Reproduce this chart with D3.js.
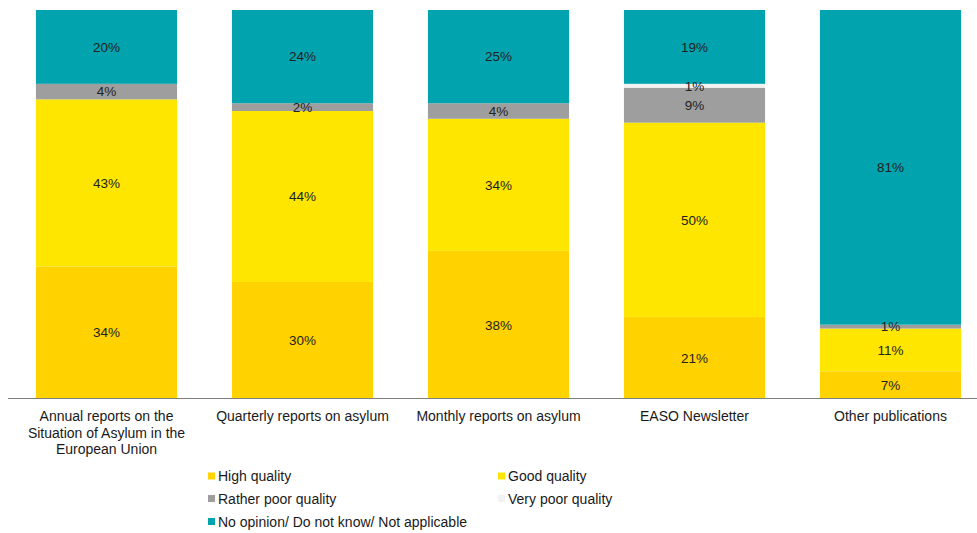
<!DOCTYPE html>
<html>
<head>
<meta charset="utf-8">
<script src="https://cdn.jsdelivr.net/npm/d3@7"></script>
<style>
  html, body { margin: 0; padding: 0; background: #fff; }
  svg { display: block; font-family: "Liberation Sans", Arial, sans-serif; }
</style>
</head>
<body>
<svg id="chart" width="977" height="533"></svg>
<script>
// Publication categories (x axis), each split into quality ratings
const categories = [
  ["Annual reports on the", "Situation of Asylum in the", "European Union"],
  ["Quarterly reports on asylum"],
  ["Monthly reports on asylum"],
  ["EASO Newsletter"],
  ["Other publications"]
];
const seriesNames = ["High quality", "Good quality", "Rather poor quality", "Very poor quality", "No opinion/ Do not know/ Not applicable"];
const highQuality   = [34, 30, 38, 21, 7];
const goodQuality   = [43, 44, 34, 50, 11];
const ratherPoor    = [4, 2, 4, 9, 1];
const veryPoor      = [0, 0, 0, 1, 0];
const noOpinion     = [20, 24, 25, 19, 81];
const seriesColors  = ["#FFD200", "#FFE600", "#9E9E9E", "#F2F2F2", "#00A3AE"];

const seriesValues = [highQuality, goodQuality, ratherPoor, veryPoor, noOpinion];
const keys = categories.map((c, i) => "c" + i);

// Rows for d3.stack (percent values; stacks above 100% are clipped at the top)
const rows = keys.map((k, i) => {
  const row = { key: k };
  seriesNames.forEach((n, j) => { row[n] = seriesValues[j][i]; });
  return row;
});

const layers = d3.stack().keys(seriesNames)(rows);

const svg = d3.select("#chart");
const plotTop = 10, plotBottom = 398.5;

const x = d3.scaleBand().domain(keys).range([8.5, 988.5]).paddingInner(0.28).paddingOuter(0.14);
const y = d3.scaleLinear().domain([0, 100]).range([plotBottom, plotTop]).clamp(true);

// Bars
const g = svg.append("g");
layers.forEach((layer, j) => {
  g.append("g").attr("fill", seriesColors[j])
    .selectAll("rect").data(layer).join("rect")
    .attr("x", d => x(d.data.key))
    .attr("width", x.bandwidth())
    .attr("y", d => y(d[1]))
    .attr("height", d => Math.max(0, y(d[0]) - y(d[1])));
});

// Value labels centred in each visible segment
layers.forEach((layer, j) => {
  const name = seriesNames[j];
  g.append("g").selectAll("text").data(layer.filter(d => d.data[name] > 0)).join("text")
    .attr("x", d => x(d.data.key) + x.bandwidth() / 2)
    .attr("y", d => (y(d[0]) + y(d[1])) / 2)
    .attr("dy", "0.36em")
    .attr("text-anchor", "middle")
    .attr("font-size", 13.5)
    .attr("fill", "#222")
    .text(d => d.data[name] + "%");
});

// X axis line
svg.append("line")
  .attr("x1", 8).attr("x2", 977)
  .attr("y1", plotBottom).attr("y2", plotBottom)
  .attr("stroke", "#7f7f7f").attr("stroke-width", 1.2);

// Category labels
const labelG = svg.append("g");
categories.forEach((lines, i) => {
  const cx = x(keys[i]) + x.bandwidth() / 2;
  const t = labelG.append("text")
    .attr("x", cx)
    .attr("y", 421)
    .attr("text-anchor", "middle")
    .attr("font-size", 14)
    .attr("fill", "#1a1a1a");
  lines.forEach((ln, k) => {
    t.append("tspan").attr("x", cx).attr("dy", k === 0 ? 0 : 16.7).text(ln);
  });
});

// Legend
const legendPos = [[208, 476], [498, 476], [208, 498.5], [498, 498.5], [208, 521.5]];
const legend = svg.append("g");
seriesNames.forEach((n, j) => {
  const [lx, ly] = legendPos[j];
  legend.append("rect").attr("x", lx).attr("y", ly - 3.5).attr("width", 7).attr("height", 7).attr("fill", seriesColors[j]);
  legend.append("text").attr("x", lx + 10).attr("y", ly).attr("dy", "0.36em")
    .attr("font-size", 14).attr("fill", "#1a1a1a").text(n);
});
</script>
</body>
</html>
